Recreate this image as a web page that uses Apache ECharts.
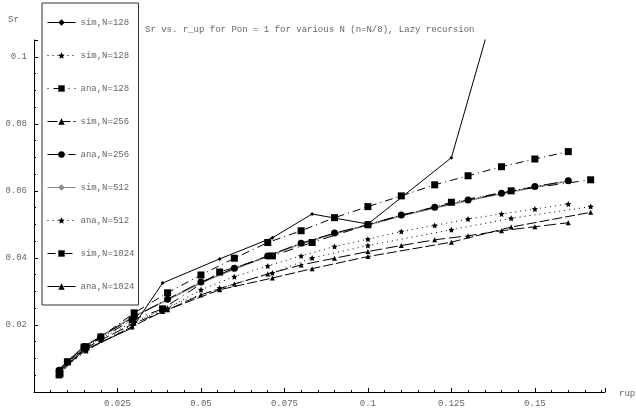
<!DOCTYPE html>
<html>
<head>
<meta charset="utf-8">
<script src="https://cdn.jsdelivr.net/npm/echarts@6/dist/echarts.min.js"></script>
<style>
  html, body { margin: 0; padding: 0; background: #fff; }
  #main { width: 636px; height: 408px; }
</style>
</head>
<body>
<div id="main"></div>
<script>
// r_up grids
const xGrid = [0.0075, 0.01, 0.015, 0.02, 0.03, 0.04, 0.05, 0.06, 0.07, 0.08, 0.09, 0.1, 0.11, 0.12, 0.13, 0.14, 0.15, 0.16];
const xFrac = [0.0078, 0.0156, 0.0294, 0.0385, 0.0556, 0.0714, 0.0833, 0.1, 0.125, 0.1429, 0.1667];

// Sr values
const simN128 = [0.0066, 0.0128, 0.0191, 0.0325, 0.0397, 0.0460, 0.0531, 0.0501, 0.0699, 0.132];
const simN128b = [0.0062, 0.0122, 0.0200, 0.0250, 0.0310, 0.0355, 0.0400, 0.0437, 0.0484, 0.0518, 0.0553];
const anaN128 = [0.0055, 0.0135, 0.0215, 0.0248, 0.0358, 0.0406, 0.0446, 0.0499, 0.0566, 0.0600, 0.0633];
const simN256 = [0.0064, 0.0125, 0.0195, 0.0240, 0.0305, 0.0340, 0.0368, 0.0404, 0.0447, 0.0492, 0.0536];
const anaN256 = [0.0065, 0.0090, 0.0135, 0.0165, 0.0224, 0.0277, 0.0328, 0.0369, 0.0406, 0.0444, 0.0474, 0.0499, 0.0528, 0.0551, 0.0573, 0.0593, 0.0613, 0.0630];
const simN512 = [0.0066, 0.0092, 0.0136, 0.0166, 0.0226, 0.0275, 0.0326, 0.0367, 0.0405, 0.0442, 0.0472, 0.0498, 0.0526, 0.0549, 0.0571, 0.0591, 0.0611, 0.0629];
const anaN512 = [0.0060, 0.0088, 0.0130, 0.0160, 0.0210, 0.0250, 0.0305, 0.0344, 0.0376, 0.0406, 0.0434, 0.0456, 0.0479, 0.0497, 0.0516, 0.0531, 0.0546, 0.0561];
const simN1024 = [0.0051, 0.0090, 0.0134, 0.0164, 0.0236, 0.0296, 0.0349, 0.0399, 0.0446, 0.0481, 0.0520, 0.0553, 0.0585, 0.0618, 0.0645, 0.0672, 0.0695, 0.0717];
const anaN1024 = [0.0068, 0.0088, 0.0128, 0.0155, 0.0205, 0.0245, 0.0290, 0.0322, 0.0352, 0.0379, 0.0399, 0.0419, 0.0437, 0.0454, 0.0466, 0.0481, 0.0493, 0.0505];

const star = 'path://M0,-10 L2.9,-4 9.5,-3.1 4.8,1.5 5.9,8.1 0,5 -5.9,8.1 -4.8,1.5 -9.5,-3.1 -2.9,-4 Z';
const font = 'Liberation Mono';
const grey = '#666';

function pairs(xs, ys) {
  return ys.map((y, i) => [xs[i], y]);
}

function mk(name, xs, ys, symbol, size, dash, color, width) {
  return {
    name: name,
    type: 'line',
    data: pairs(xs, ys),
    symbol: symbol,
    symbolSize: size,
    showSymbol: true,
    clip: true,
    z: color ? 1 : 2,
    itemStyle: { color: color || '#000' },
    lineStyle: { color: color || '#000', width: width || 1, type: dash }
  };
}

var myChart = echarts.init(document.getElementById('main'));

var option = {
  animation: false,
  backgroundColor: '#fff',
  title: {
    text: 'Sr vs. r_up for Pon = 1 for various N (n=N/8), Lazy recursion',
    left: 140,
    top: 20,
    textStyle: { fontFamily: font, fontSize: 9, fontWeight: 'normal', color: grey }
  },
  graphic: [
    { type: 'text', left: 8, top: 15, style: { text: 'Sr', fontFamily: font, fontSize: 9, fill: grey } },
    { type: 'text', left: 619, top: 389, style: { text: 'rup', fontFamily: font, fontSize: 9, fill: grey } }
  ],
  legend: {
    orient: 'vertical',
    left: 42,
    top: 3,
    padding: [15, 4, 14, 5],
    itemWidth: 28,
    itemHeight: 8,
    itemGap: 24,
    borderColor: '#333',
    borderWidth: 1,
    lineStyle: { width: 1 },
    textStyle: { fontFamily: font, fontSize: 9, color: grey },
    data: ['sim,N=128', 'sim,N=128 ', 'ana,N=128', 'sim,N=256', 'ana,N=256', 'sim,N=512', 'ana,N=512', 'sim,N=1024', 'ana,N=1024'],
    formatter: function (n) { return n.trim(); }
  },
  grid: { left: 34, top: 40, width: 571, height: 352, containLabel: false },
  xAxis: {
    type: 'value',
    min: 0,
    max: 0.171,
    interval: 0.025,
    splitLine: { show: false },
    axisLine: { lineStyle: { color: '#000', width: 1 } },
    axisTick: { inside: true, length: 4, lineStyle: { color: '#000' } },
    minorTick: { show: true, splitNumber: 5, length: 2, lineStyle: { color: '#000' } },
    axisLabel: {
      fontFamily: font, fontSize: 9, color: grey, margin: 7,
      formatter: function (v) { return v === 0 || v > 0.1501 ? '' : String(+v.toFixed(3)); }
    }
  },
  yAxis: {
    type: 'value',
    min: 0,
    max: 0.105,
    interval: 0.02,
    splitLine: { show: false },
    axisLine: { lineStyle: { color: '#000', width: 1 } },
    axisTick: { inside: true, length: 4, lineStyle: { color: '#000' } },
    minorTick: { show: true, splitNumber: 4, length: 2, lineStyle: { color: '#000' } },
    axisLabel: {
      fontFamily: font, fontSize: 9, color: grey, margin: 7,
      formatter: function (v) { return v === 0 || v > 0.1001 ? '' : String(+v.toFixed(3)); }
    }
  },
  series: [
    mk('sim,N=128', xFrac, simN128, 'diamond', 4, 'solid'),
    mk('sim,N=128 ', xFrac, simN128b, star, 6, [1, 4]),
    mk('ana,N=128', xFrac, anaN128, 'rect', 7, [1, 5, 10, 5]),
    mk('sim,N=256', xFrac, simN256, 'triangle', 5, [10, 3]),
    mk('ana,N=256', xGrid, anaN256, 'circle', 7, [14, 3, 1, 3]),
    mk('sim,N=512', xGrid, simN512, 'diamond', 3, 'solid', '#888', 1.5),
    mk('ana,N=512', xGrid, anaN512, star, 6, [1, 4]),
    mk('sim,N=1024', xGrid, simN1024, 'rect', 7, [8, 4, 1, 4]),
    mk('ana,N=1024', xGrid, anaN1024, 'triangle', 5, [12, 4])
  ]
};

myChart.setOption(option);
</script>
</body>
</html>
